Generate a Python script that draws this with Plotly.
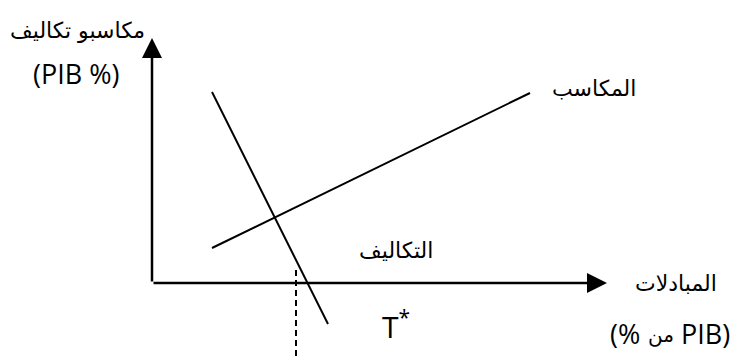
import plotly.graph_objects as go

# Abstract diagram coordinates (origin at axis corner)
axis_x_end = 45.5
axis_y_end = 24.5
gain_x = [6.0, 37.8]
gain_y = [3.5, 19.0]
cost_x = [6.0, 17.6]
cost_y = [19.1, -4.1]
t_star_x = [14.4, 14.4]
t_star_y = [1.3, -7.7]

y_title = "مكاسبو تكاليف"
y_unit = "(PIB %)"
x_title = "المبادلات"
x_unit_parts = ["(%", "من", "PIB)"]   # reads: (% من PIB)
gain_label = "المكاسب"
cost_label = "التكاليف"

fig = go.Figure()
fig.add_trace(go.Scatter(x=gain_x, y=gain_y, mode="lines",
                         line=dict(color="black", width=2), hoverinfo="skip"))
fig.add_trace(go.Scatter(x=cost_x, y=cost_y, mode="lines",
                         line=dict(color="black", width=2), hoverinfo="skip"))
fig.add_trace(go.Scatter(x=t_star_x, y=t_star_y, mode="lines",
                         line=dict(color="black", width=2, dash="6px,4px"), hoverinfo="skip"))

# axes with arrows
fig.add_annotation(x=axis_x_end, y=0, ax=0, ay=0, xref="x", yref="y", axref="x", ayref="y",
                   showarrow=True, arrowhead=2, arrowsize=1.6, arrowwidth=2.5, arrowcolor="black", text="")
fig.add_annotation(x=0, y=axis_y_end, ax=0, ay=0, xref="x", yref="y", axref="x", ayref="y",
                   showarrow=True, arrowhead=2, arrowsize=1.6, arrowwidth=2.5, arrowcolor="black", text="")

arab = "DejaVu Sans"
latin = "Open Sans"
def txt(x, y, s, size, fam, anchor="center"):
    fig.add_annotation(x=x, y=y, xref="x", yref="y", text=s, showarrow=False,
                       font=dict(family=fam, size=size, color="black"),
                       xanchor=anchor, yanchor="middle")

txt(-7.5, 25.3, y_title, 22, arab)
txt(-7.6, 21.0, y_unit, 27, latin)
txt(44.2, 19.5, gain_label, 22, arab)
txt(24.4, 3.3, cost_label, 22, arab)
txt(52.4, 0.0, x_title, 22, arab)
txt(49.0, -5.0, x_unit_parts[0], 27, latin, "right")
txt(50.9, -5.2, x_unit_parts[1], 20, arab)
txt(52.7, -5.0, x_unit_parts[2], 27, latin, "left")
txt(24.4, -4.2, "T<sup>*</sup>", 30, latin)

fig.update_layout(width=738, height=352, margin=dict(l=0, r=0, t=0, b=0),
                  plot_bgcolor="white", paper_bgcolor="white", showlegend=False,
                  xaxis=dict(range=[-14.4, 59.4], visible=False, fixedrange=True),
                  yaxis=dict(range=[-7.7, 27.5], visible=False, fixedrange=True))
fig.write_html("out.html")
